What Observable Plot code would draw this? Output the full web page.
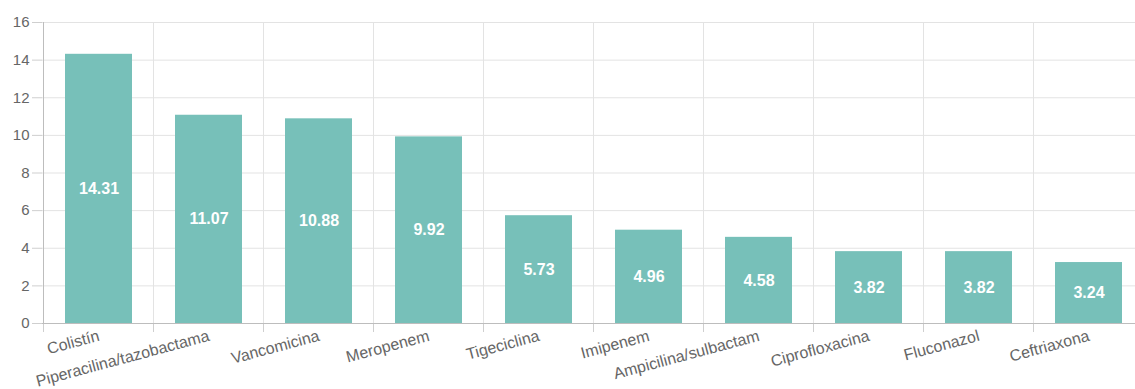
<!DOCTYPE html>
<html>
<head>
<meta charset="utf-8">
<script src="https://cdn.jsdelivr.net/npm/d3@7"></script>
<script src="https://cdn.jsdelivr.net/npm/@observablehq/plot@0.6"></script>
<style>
  html, body { margin: 0; padding: 0; background: #fff; overflow: hidden; }
  #chart svg { display: block; }
</style>
</head>
<body>
<div id="chart"></div>
<script>
const categories = ["Colistín", "Piperacilina/tazobactama", "Vancomicina", "Meropenem", "Tigeciclina", "Imipenem", "Ampicilina/sulbactam", "Ciprofloxacina", "Fluconazol", "Ceftriaxona"];
const values = [14.31, 11.07, 10.88, 9.92, 5.73, 4.96, 4.58, 3.82, 3.82, 3.24];
const yTicks = [0, 2, 4, 6, 8, 10, 12, 14, 16];

const data = categories.map((c, i) => ({name: c, value: values[i]}));
const FONT = "'Liberation Sans', Arial, Helvetica, sans-serif";
const PAD = 0.39;

// vertical gridlines at category boundaries, drawn from the band scale
function bandGrid(index, scales, channels, dimensions) {
  const x = scales.x;
  const step = x.step();
  const bw = x.bandwidth();
  const g = d3.create("svg:g");
  const bounds = categories.map(c => x(c) - (step - bw) / 2);
  const top = dimensions.marginTop;
  const bottom = dimensions.height - dimensions.marginBottom;
  for (let i = 1; i < bounds.length; i++) {
    g.append("line").attr("x1", bounds[i]).attr("x2", bounds[i])
      .attr("y1", top).attr("y2", bottom)
      .attr("stroke", "#e3e3e3").attr("stroke-width", 1);
  }
  for (let i = 0; i < bounds.length; i++) {
    g.append("line").attr("x1", bounds[i]).attr("x2", bounds[i])
      .attr("y1", bottom).attr("y2", bottom + 9)
      .attr("stroke", "#cfcfcf").attr("stroke-width", 1);
  }
  // left axis line
  g.append("line").attr("x1", bounds[0]).attr("x2", bounds[0])
    .attr("y1", top).attr("y2", bottom)
    .attr("stroke", "#bdbdbd").attr("stroke-width", 1);
  return g.node();
}

const chart = Plot.plot({
  width: 1135,
  height: 389,
  marginLeft: 42,
  marginRight: -11,
  marginTop: 22,
  marginBottom: 66,
  style: {fontFamily: FONT, background: "#fff", overflow: "hidden"},
  x: {domain: categories, paddingInner: PAD, paddingOuter: PAD / 2, label: null},
  y: {domain: [0, 16], ticks: yTicks, label: null},
  marks: [
    Plot.gridY(yTicks, {stroke: "#e3e3e3", strokeOpacity: 1}),
    bandGrid,
    Plot.barY(data, {x: "name", y: "value", fill: "#77c0b9"}),
    Plot.ruleY([0], {stroke: "#bdbdbd"}),
    Plot.axisY(yTicks, {tickSize: 10, tickPadding: 3, fontSize: 15, fill: "#666", stroke: "#cfcfcf", label: null}),
    Plot.axisX({tickRotate: -15, tickSize: 0, tickPadding: 12, fontSize: 16, fill: "#666", label: null}),
    Plot.text(data, {x: "name", y: d => d.value / 2, text: d => d.value.toFixed(2), fill: "#fff", fontWeight: "bold", fontSize: 16})
  ]
});
document.getElementById("chart").appendChild(chart);
</script>
</body>
</html>
